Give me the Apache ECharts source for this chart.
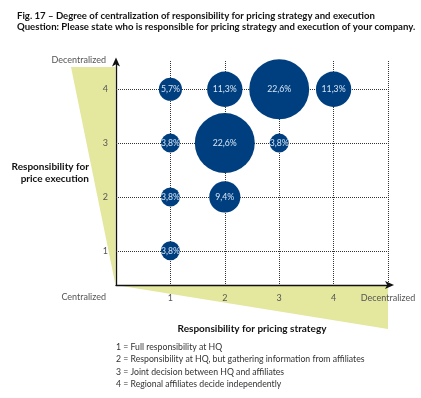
<!DOCTYPE html>
<html>
<head>
<meta charset="utf-8">
<script src="https://cdn.jsdelivr.net/npm/echarts@6/dist/echarts.min.js"></script>
<style>
  html, body { margin: 0; padding: 0; background: #fff; }
  #chart { width: 421px; height: 398px; }
</style>
</head>
<body>
<div id="chart"></div>
<script>
// data
var strategy  = [1, 2, 3, 4, 1, 2, 3, 1, 2, 1];
var execution = [4, 4, 4, 4, 3, 3, 3, 2, 2, 1];
var shares    = [5.7, 11.3, 22.6, 11.3, 3.8, 22.6, 3.8, 3.8, 9.4, 3.8];
var yTicks = [1, 2, 3, 4];
var xTickNames = ['', '1', '2', '3', '4', 'Decentralized'];
var notes = [
  '1 = Full responsibility at HQ',
  '2 = Responsibility at HQ, but gathering information from affiliates',
  '3 = Joint decision between HQ and affiliates',
  '4 = Regional affiliates decide independently'
];

var FONT = 'Lato, "Open Sans", sans-serif';
var NAVY = '#003f7f';
var YELLOW = '#e4e79e';

var points = [];
for (var i = 0; i < shares.length; i++) {
  points.push([strategy[i], execution[i], shares[i]]);
}

var chart = echarts.init(document.getElementById('chart'));
chart.setOption({
  animation: false,
  title: {
    text: 'Fig. 17 \u2013 Degree of centralization of responsibility for pricing strategy and execution\nQuestion: Please state who is responsible for pricing strategy and execution of your company.',
    left: 12, top: 5,
    textStyle: { fontFamily: FONT, fontSize: 9.6, fontWeight: 'bold', color: '#111', lineHeight: 11 }
  },
  grid: { left: 116, right: 33, top: 61, bottom: 113 },
  xAxis: {
    type: 'value', min: 0, max: 5, interval: 1,
    name: 'Responsibility for pricing strategy',
    nameLocation: 'middle', nameGap: 39,
    nameTextStyle: { fontFamily: FONT, fontSize: 10, fontWeight: 'bold', color: '#111' },
    axisLine: { lineStyle: { color: '#111', width: 1.3 }, symbol: ['none', 'arrow'], symbolSize: [6, 9], symbolOffset: [0, 6] },
    axisTick: { show: false },
    axisLabel: {
      margin: 9, fontFamily: FONT, fontSize: 9, color: '#555',
      formatter: function (v) { return xTickNames[v]; }
    },
    splitLine: { show: true, showMinLine: false, lineStyle: { type: 'dotted', color: '#333', width: 1 } }
  },
  yAxis: {
    type: 'value', min: 0.364, max: 4.525,
    name: 'Responsibility for\nprice execution',
    nameLocation: 'middle', nameRotate: 0, nameGap: 27,
    nameTextStyle: { fontFamily: FONT, fontSize: 10, fontWeight: 'bold', color: '#111', align: 'right', lineHeight: 12 },
    axisLine: { lineStyle: { color: '#111', width: 1.3 }, symbol: ['none', 'arrow'], symbolSize: [6, 9], symbolOffset: [0, 3.5] },
    axisTick: { show: false },
    axisLabel: { margin: 8, fontFamily: FONT, fontSize: 9, color: '#555', customValues: yTicks },
    splitLine: { show: false }
  },
  graphic: [
    { type: 'polygon', z: -1, silent: true, shape: { points: [[71, 67], [115.5, 67], [115.5, 285]] }, style: { fill: YELLOW } },
    { type: 'polygon', z: -1, silent: true, shape: { points: [[115.5, 285], [388, 285], [388, 329]] }, style: { fill: YELLOW } },
    { type: 'text', right: 315, top: 56, style: { text: 'Decentralized', font: '9px ' + FONT, fill: '#555' } },
    { type: 'text', right: 315, top: 293, style: { text: 'Centralized', font: '9px ' + FONT, fill: '#555' } },
    { type: 'text', left: 116, top: 341, style: { text: notes.join('\n'), font: '8.7px ' + FONT, fill: '#333', lineHeight: 12.4 } }
  ],
  series: [{
    type: 'scatter',
    data: points,
    symbolSize: function (d) { return 10.7 + 2.18 * d[2]; },
    itemStyle: { color: NAVY, opacity: 1 },
    label: {
      show: true, position: 'inside',
      fontFamily: FONT, fontSize: 8.7, color: '#d6e4f3',
      formatter: function (p) { return p.value[2].toFixed(1).replace('.', ',') + '%'; }
    },
    markLine: {
      silent: true, symbol: 'none', z: 1,
      label: { show: false },
      lineStyle: { type: 'dotted', color: '#333', width: 1 },
      data: yTicks.map(function (v) { return { yAxis: v }; })
    }
  }]
});
</script>
</body>
</html>
